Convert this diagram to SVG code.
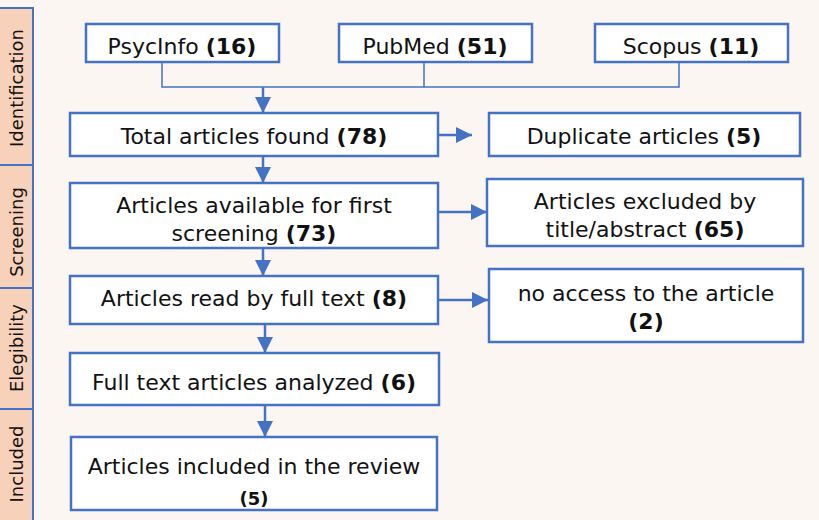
<svg xmlns="http://www.w3.org/2000/svg" width="819" height="520" viewBox="0 0 819 520">
<style>
.bg{fill:#fcf6f2}
.phase{fill:#f8d1bb;stroke:#4472c4;stroke-width:2}
.box{fill:#ffffff;stroke:#4472c4;stroke-width:2.5}
.t{font-family:"DejaVu Sans",Verdana,sans-serif;font-size:22px;fill:#111;text-anchor:middle}
.b{font-weight:bold}
.pt{font-family:"DejaVu Sans",Verdana,sans-serif;font-size:18px;fill:#111;text-anchor:middle}
.con{fill:none;stroke:#4472c4;stroke-width:1.5}
.arr{fill:none;stroke:#4472c4;stroke-width:2.5}
</style>
<defs>
<marker id="ah" markerUnits="userSpaceOnUse" markerWidth="16" markerHeight="16" viewBox="0 0 16 16" refX="16" refY="8" orient="auto">
<path d="M0,0 L16,8 L0,16 Z" fill="#4472c4"/>
</marker>
</defs>
<rect class="bg" x="0" y="0" width="819" height="520"/>
<g id="phases">
<rect class="phase" x="-2" y="8" width="35" height="157"/>
<rect class="phase" x="-2" y="165" width="35" height="123"/>
<rect class="phase" x="-2" y="288" width="35" height="121"/>
<rect class="phase" x="-2" y="409" width="35" height="115"/>
<text class="pt" transform="translate(23,88) rotate(-90)">Identification</text>
<text class="pt" transform="translate(23,232) rotate(-90)">Screening</text>
<text class="pt" transform="translate(23,348) rotate(-90)">Elegibility</text>
<text class="pt" transform="translate(23,464) rotate(-90)">Included</text>
</g>
<g id="connectors">
<path class="con" d="M162,62 V87 H679 V62 M424,62 V87"/>
<line class="arr" x1="263" y1="87" x2="263" y2="113" marker-end="url(#ah)"/>
<line class="arr" x1="438" y1="135" x2="472" y2="135" marker-end="url(#ah)"/>
<line class="arr" x1="263" y1="156" x2="263" y2="183" marker-end="url(#ah)"/>
<line class="arr" x1="438" y1="212" x2="487" y2="212" marker-end="url(#ah)"/>
<line class="arr" x1="263" y1="248" x2="263" y2="276" marker-end="url(#ah)"/>
<line class="arr" x1="438" y1="300" x2="488" y2="300" marker-end="url(#ah)"/>
<line class="arr" x1="265" y1="324" x2="265" y2="353" marker-end="url(#ah)"/>
<line class="arr" x1="265" y1="405" x2="265" y2="437" marker-end="url(#ah)"/>
</g>
<g id="psycinfo">
<rect class="box" x="86" y="24" width="193" height="38"/>
<text class="t" x="182" y="54">PsycInfo <tspan class="b">(16)</tspan></text>
</g>
<g id="pubmed">
<rect class="box" x="339" y="24" width="193" height="38"/>
<text class="t" x="435" y="54">PubMed <tspan class="b">(51)</tspan></text>
</g>
<g id="scopus">
<rect class="box" x="595" y="24" width="193" height="38"/>
<text class="t" x="691" y="54">Scopus <tspan class="b">(11)</tspan></text>
</g>
<g id="total">
<rect class="box" x="70" y="113" width="368" height="43"/>
<text class="t" x="254" y="144">Total articles found <tspan class="b">(78)</tspan></text>
</g>
<g id="duplicate">
<rect class="box" x="489" y="113" width="311" height="43"/>
<text class="t" x="644" y="144">Duplicate articles <tspan class="b">(5)</tspan></text>
</g>
<g id="available">
<rect class="box" x="70" y="183" width="368" height="65"/>
<text class="t" x="254" y="213">Articles available for first</text>
<text class="t" x="254" y="241">screening <tspan class="b">(73)</tspan></text>
</g>
<g id="excluded">
<rect class="box" x="487" y="179" width="316" height="67"/>
<text class="t" x="645" y="209">Articles excluded by</text>
<text class="t" x="645" y="237">title/abstract <tspan class="b">(65)</tspan></text>
</g>
<g id="fulltext">
<rect class="box" x="70" y="276" width="368" height="48"/>
<text class="t" x="254" y="306">Articles read by full text <tspan class="b">(8)</tspan></text>
</g>
<g id="noaccess">
<rect class="box" x="489" y="269" width="314" height="73"/>
<text class="t" x="646" y="301">no access to the article</text>
<text class="t b" x="646" y="329">(2)</text>
</g>
<g id="analyzed">
<rect class="box" x="70" y="353" width="369" height="52"/>
<text class="t" x="254" y="390">Full text articles analyzed <tspan class="b">(6)</tspan></text>
</g>
<g id="included">
<rect class="box" x="71" y="437" width="366" height="73"/>
<text class="t" x="254" y="474">Articles included in the review</text>
<text class="t b" x="254" y="505" style="font-size:18px">(5)</text>
</g>
</svg>
